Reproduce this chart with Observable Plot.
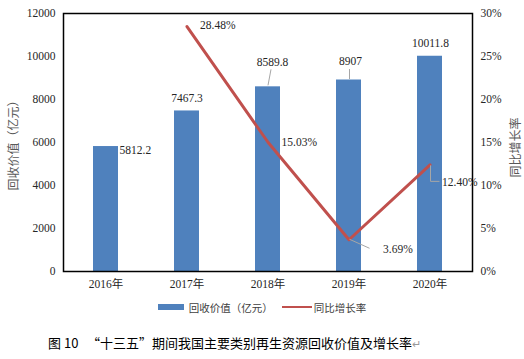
<!DOCTYPE html>
<html><head><meta charset="utf-8">
<script src="https://cdn.jsdelivr.net/npm/d3@7"></script>
<script src="https://cdn.jsdelivr.net/npm/@observablehq/plot@0.6"></script>
<style>
body{margin:0;background:#fff;}
#wrap{width:524px;height:359px;position:relative;overflow:hidden;}
#legend{height:22px;display:flex;align-items:center;justify-content:center;font-family:'Noto Sans CJK SC',sans-serif;font-size:10.5px;color:#404040;}
#legend .sw{display:inline-block;width:26px;height:6px;background:#4F81BD;margin-right:5px;}
#legend .ln{display:inline-block;width:30px;height:2px;background:#C0504D;margin:0 2px 0 9px;}
#caption{margin-top:15px;height:20px;line-height:20px;padding-left:48px;font-family:'Noto Sans CJK SC',sans-serif;font-size:13px;color:#000;white-space:nowrap;}
#caption .ret{color:#999;font-size:11px;}
</style></head>
<body><div id="wrap"><div id="chart"></div>
<div id="legend"><span class="sw"></span><span>回收价值（亿元）</span><span class="ln"></span><span>同比增长率</span></div>
<div id="caption">图 10&nbsp;&nbsp;&nbsp;“十三五”期间我国主要类别再生资源回收价值及增长率<span class="ret">↵</span></div>
</div>
<script>
const years = ["2016年", "2017年", "2018年", "2019年", "2020年"];
const values = [5812.2, 7467.3, 8589.8, 8907, 10011.8];
const valueLabels = ["5812.2", "7467.3", "8589.8", "8907", "10011.8"];
const rates = [null, 28.48, 15.03, 3.69, 12.40];
const rateLabels = ["", "28.48%", "15.03%", "3.69%", "12.40%"];
const leftTicks = [0, 2000, 4000, 6000, 8000, 10000, 12000];
const rightTicks = [0, 5, 10, 15, 20, 25, 30];
const leftTitle = "回收价值（亿元）";
const rightTitle = "同比增长率";

const yMax = 12000, rMax = 30, k = yMax / rMax;
const rows = years.map((y, i) => ({year: y, value: values[i], vlabel: valueLabels[i], rate: rates[i], rlabel: rateLabels[i]}));
const rateRows = rows.filter(d => d.rate != null);

// label placement (style only)
const barLabelPlace = [
  {anchor: "start", dx: 13.5, dy: 4},
  {anchor: "middle", dx: 0, dy: -12.5},
  {anchor: "middle", dx: 4.5, dy: -25},
  {anchor: "middle", dx: 1.5, dy: -18.5},
  {anchor: "middle", dx: 0.5, dy: -13}
];
const rateLabelPlace = [null,
  {dx: 13, dy: -1}, {dx: 13.5, dy: 0}, {dx: 34, dy: 10}, {dx: 12, dy: 17}];

const font = "'Liberation Serif','Noto Sans CJK SC',serif";
const textColor = "#262626";

const marks = [
  Plot.barY(rows, {x: "year", y: "value", fill: "#4F81BD"}),
  Plot.line(rateRows, {x: "year", y: d => d.rate * k, stroke: "#C0504D", strokeWidth: 3}),
  Plot.frame({stroke: "#000", strokeWidth: 1.5}),
  Plot.axisY(leftTicks, {anchor: "left", tickSize: 0, tickPadding: 8, label: null, tickFormat: d => String(d), fontSize: 11.5, fill: textColor}),
  Plot.axisY(rightTicks.map(t => t * k), {anchor: "right", tickSize: 0, tickPadding: 8, label: null, tickFormat: d => (d / k) + "%", fontSize: 11.5, fill: textColor}),
  Plot.axisX({tickSize: 0, tickPadding: 8, label: null, fontSize: 11.5, fill: textColor}),
  Plot.text([leftTitle], {frameAnchor: "left", textAnchor: "middle", dx: -49, rotate: -90, fontSize: 12, fill: "#595959", fontFamily: "'Noto Sans CJK SC',sans-serif"}),
  Plot.text([rightTitle], {frameAnchor: "right", textAnchor: "middle", dx: 44, dy: 5, rotate: -90, fontSize: 12, fill: "#595959", fontFamily: "'Noto Sans CJK SC',sans-serif"})
];
rows.forEach((d, i) => {
  const p = barLabelPlace[i];
  marks.push(Plot.text([d], {x: "year", y: "value", text: "vlabel", textAnchor: p.anchor, dx: p.dx, dy: p.dy, fontSize: 11.5, fill: textColor}));
  const q = rateLabelPlace[i];
  if (q) marks.push(Plot.text([d], {x: "year", y: r => r.rate * k, text: "rlabel", textAnchor: "start", dx: q.dx, dy: q.dy, fontSize: 11.5, fill: textColor}));
});

const chart = Plot.plot({
  width: 524, height: 296,
  marginLeft: 63, marginRight: 52, marginTop: 13, marginBottom: 25,
  style: {fontFamily: font, fontSize: "11.5px", background: "#fff"},
  x: {domain: years, paddingInner: 0.69, paddingOuter: 0.345, axis: null},
  y: {domain: [0, yMax], axis: null},
  marks
});
document.getElementById("chart").appendChild(chart);

// leader lines drawn through Plot's own scales
const sx = chart.scale("x"), sy = chart.scale("y");
const bw = sx.bandwidth || 0;
const X = v => (sx.apply ? sx.apply(v) : 0) + bw / 2;
const Y = v => sy.apply(v);
const leaders = [
  {i: 2, y: values[2], pts: [[3.5, -17], [0.5, -1]]},
  {i: 3, y: values[3], pts: [[1, -10.5], [1, -0.5]]},
  {i: 3, y: rates[3] * k, pts: [[1, 0], [21, 9]]},
  {i: 4, y: rates[4] * k, pts: [[1, 1], [1, 17], [10, 17]]}
];
const svg = d3.select(chart);
leaders.forEach(L => {
  const x0 = X(years[L.i]), y0 = Y(L.y);
  svg.append("path")
    .attr("d", d3.line()(L.pts.map(([a, b]) => [x0 + a, y0 + b])))
    .attr("fill", "none").attr("stroke", "#A6A6A6").attr("stroke-width", 1);
});
</script></body></html>
